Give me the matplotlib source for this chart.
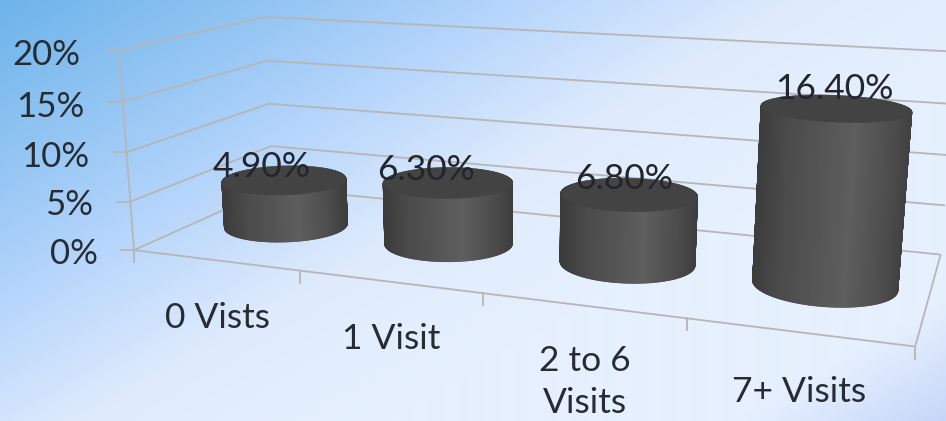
import matplotlib

matplotlib.use("Agg")
import matplotlib.pyplot as plt
import numpy as np
from matplotlib.collections import PolyCollection
from matplotlib.colors import LinearSegmentedColormap
from matplotlib.patches import Polygon

categories = ["0 Vists", "1 Visit", "2 to 6\nVisits", "7+ Visits"]
values = [4.9, 6.3, 6.8, 16.4]
ticks = [0, 5, 10, 15, 20]
tick_labels = ["0%", "5%", "10%", "15%", "20%"]

W, H = 946, 421
Z_MAX = 20
RADIUS_X, RADIUS_Y = 0.086, 0.23

# (box x, box depth, box height) -> pixel
CORNERS = [
    (0, 0, 0, 135, 250),
    (0, 0, 1, 118, 50),
    (0, 1, 0, 272, 188),
    (0, 1, 1, 266, 17),
    (1, 0, 0, 915, 347),
    (1, 1, 0, 941, 254),
    (1, 1, 1, 958, 52),
]

# label anchors in pixels
VALUE_POS = [(262, 167), (426, 170), (624, 179), (834, 89)]
CAT_POS = [(217, 318), (391, 339), (585, 382), (799, 392)]
TICK_POS = [(80, 55), (84, 107), (89, 157), (93, 205), (98, 254)][::-1]

GRID = "#b6b6b6"
TEXT = "#262c34"


def fit_camera(corners):
    rows, rhs = [], []
    for x, y, z, u, v in corners:
        rows.append([x, y, z, 1, 0, 0, 0, 0, -u * x, -u * y, -u * z])
        rows.append([0, 0, 0, 0, x, y, z, 1, -v * x, -v * y, -v * z])
        rhs += [u, v]
    p = np.linalg.lstsq(np.array(rows, float), np.array(rhs, float), rcond=None)[0]
    return np.append(p, 1).reshape(3, 4)


CAM = fit_camera(CORNERS)


def project(x, y, value):
    """Box x and depth (0-1) plus a percent value to pixel coordinates."""
    x, y, value = np.broadcast_arrays(x, y, value)
    pts = np.stack([x, y, value / Z_MAX, np.ones_like(x, dtype=float)])
    u, v, w = CAM @ pts
    return u / w, v / w


def line3d(ax, p0, p1, **kw):
    u, v = project(np.array([p0[0], p1[0]]), np.array([p0[1], p1[1]]), np.array([p0[2], p1[2]]))
    ax.plot(u, v, color=GRID, lw=1.3, solid_capstyle="butt", zorder=2, **kw)


def draw_background(ax):
    yy, xx = np.mgrid[0:H, 0:W]
    t = xx + 1.7 * yy
    stops = [0, 250, 500, 800, 1100, 1450, 1662]
    reds = [0x6d, 0x8f, 0xb3, 0xdf, 0xe6, 0xe6, 0xc5]
    greens = [0xb4, 0xc3, 0xd4, 0xeb, 0xf0, 0xf0, 0xd6]
    blues = [0xea, 0xf2, 0xfb, 0xfd, 0xfe, 0xfe, 0xf8]
    rgb = np.dstack([np.interp(t, stops, c) / 255 for c in (reds, greens, blues)])
    ax.imshow(rgb, extent=(0, W, H, 0), interpolation="bilinear", zorder=0)


def draw_box(ax):
    for tick in ticks:
        line3d(ax, (0, 0, tick), (0, 1, tick))
        line3d(ax, (0, 1, tick), (1, 1, tick))
        # outward tick on the value axis
        u, v = project(0, 0, tick)
        ax.plot([u - 13, u], [v, v], color=GRID, lw=1.3, zorder=2)
    line3d(ax, (0, 0, 0), (0, 0, Z_MAX))
    line3d(ax, (0, 0, 0), (1, 0, 0))
    line3d(ax, (1, 0, 0), (1, 1, 0))
    for edge in np.linspace(0, 1, len(categories) + 1):
        u, v = project(edge, 0, 0)
        ax.plot([u, u], [v, v + 12], color=GRID, lw=1.3, zorder=2)


def draw_cylinder(ax, centre, value, cmap):
    theta = np.linspace(0, 2 * np.pi, 361)
    cx = centre + RADIUS_X * np.cos(theta)
    cy = 0.5 + RADIUS_Y * np.sin(theta)
    bu, bv = project(cx, cy, 0.0)
    tu, tv = project(cx, cy, value)
    left, right = min(tu.min(), bu.min()), max(tu.max(), bu.max())

    # side wall as thin strips, back half first
    order = np.argsort(-np.sin(theta[:-1]))
    quads, shades = [], []
    for i in order:
        quads.append([(bu[i], bv[i]), (bu[i + 1], bv[i + 1]), (tu[i + 1], tv[i + 1]), (tu[i], tv[i])])
        shades.append((0.5 * (bu[i] + tu[i]) - left) / (right - left))
    side = PolyCollection(quads, array=np.array(shades), cmap=cmap, clim=(0, 1), zorder=3)
    side.set_edgecolor("face")
    side.set_linewidth(1.2)
    ax.add_collection(side)
    ax.add_patch(Polygon(np.column_stack([tu, tv]), closed=True, fc="#434343", ec="#434343", lw=0.5, zorder=4))


def main():
    plt.rcParams["font.family"] = ["Lato", "DejaVu Sans"]
    fig = plt.figure(figsize=(W / 100, H / 100), dpi=100)
    ax = fig.add_axes((0, 0, 1, 1))
    draw_background(ax)
    draw_box(ax)

    body = LinearSegmentedColormap.from_list(
        "body",
        [(0, "#3a3a3a"), (0.2, "#4b4b4b"), (0.6, "#5e5e5e"), (0.85, "#4c4c4c"), (1, "#3c3c3c")],
    )
    for i, value in enumerate(values):
        draw_cylinder(ax, (i + 0.5) / len(categories) + 0.002, value, body)

    for (x, y), value in zip(VALUE_POS, values):
        ax.text(x, y, f"{value:.2f}%", ha="center", va="center", fontsize=25.5, color="#22262c", zorder=5)
    for (x, y), label in zip(CAT_POS, categories):
        ax.text(x, y, label, ha="center", va="center", fontsize=25.5, color=TEXT, zorder=5, linespacing=1.4)
    for (x, y), label in zip(TICK_POS, tick_labels):
        ax.text(x, y, label, ha="right", va="center", fontsize=25, color=TEXT, zorder=5)

    ax.set_xlim(0, W)
    ax.set_ylim(H, 0)
    ax.axis("off")
    fig.savefig("out.png", dpi=100)


if __name__ == "__main__":
    main()
